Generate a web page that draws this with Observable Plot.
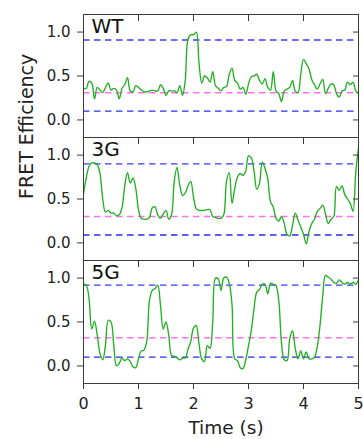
<!DOCTYPE html>
<html><head><meta charset="utf-8">
<script src="https://cdn.jsdelivr.net/npm/d3@7"></script>
<script src="https://cdn.jsdelivr.net/npm/@observablehq/plot@0.6"></script>
<style>body{margin:0;background:#fff;}</style>
</head><body><div id="chart"></div>
<script>
const panels = ["WT", "3G", "5G"];
const times = [0,0.05,0.1,0.15,0.2,0.25,0.3,0.35,0.4,0.45,
  0.5,0.55,0.6,0.65,0.7,0.75,0.8,0.85,0.9,0.95,
  1,1.05,1.1,1.15,1.2,1.25,1.3,1.35,1.4,1.45,
  1.5,1.55,1.6,1.65,1.7,1.75,1.8,1.85,1.9,1.95,
  2,2.05,2.1,2.15,2.2,2.25,2.3,2.35,2.4,2.45,
  2.5,2.55,2.6,2.65,2.7,2.75,2.8,2.85,2.9,2.95,
  3,3.05,3.1,3.15,3.2,3.25,3.3,3.35,3.4,3.45,
  3.5,3.55,3.6,3.65,3.7,3.75,3.8,3.85,3.9,3.95,
  4,4.05,4.1,4.15,4.2,4.25,4.3,4.35,4.4,4.45,
  4.5,4.55,4.6,4.65,4.7,4.75,4.8,4.85,4.9,4.95,
  5];
const fretWT = [0.36,0.36,0.44,0.42,0.24,0.37,0.34,0.31,0.37,0.42,
  0.34,0.36,0.34,0.24,0.36,0.40,0.48,0.33,0.32,0.39,
  0.37,0.34,0.32,0.32,0.33,0.34,0.33,0.33,0.40,0.36,
  0.28,0.33,0.33,0.33,0.31,0.39,0.28,0.45,0.92,0.97,
  0.97,1.00,0.65,0.42,0.50,0.48,0.43,0.55,0.39,0.36,
  0.33,0.37,0.38,0.52,0.59,0.45,0.42,0.35,0.37,0.29,
  0.41,0.49,0.50,0.52,0.45,0.41,0.47,0.37,0.34,0.55,
  0.33,0.30,0.21,0.33,0.35,0.37,0.45,0.33,0.31,0.52,
  0.69,0.64,0.58,0.46,0.40,0.35,0.41,0.46,0.30,0.36,
  0.41,0.40,0.30,0.26,0.33,0.34,0.43,0.40,0.43,0.33,
  0.30];
const fret3G = [0.56,0.74,0.87,0.91,0.91,0.89,0.79,0.50,0.35,0.37,
  0.34,0.34,0.31,0.32,0.40,0.65,0.80,0.68,0.74,0.62,
  0.38,0.28,0.27,0.27,0.29,0.40,0.41,0.32,0.28,0.33,
  0.37,0.27,0.32,0.70,0.86,0.66,0.54,0.57,0.65,0.70,
  0.52,0.39,0.37,0.37,0.37,0.38,0.38,0.30,0.29,0.28,
  0.28,0.32,0.70,0.80,0.45,0.62,0.75,0.79,0.77,0.82,
  0.99,0.97,0.82,0.61,0.68,0.92,0.85,0.73,0.47,0.41,
  0.28,0.25,0.30,0.22,0.10,0.08,0.20,0.34,0.26,0.18,
  0.10,-0.01,0.13,0.22,0.27,0.36,0.39,0.43,0.33,0.22,
  0.27,0.30,0.64,0.60,0.65,0.55,0.50,0.45,0.36,0.80,
  1.08];
const fret5G = [0.93,0.92,0.77,0.42,0.51,0.35,0.14,0.07,0.24,0.52,
  0.50,0.24,0.00,0.03,0.09,0.06,0.08,0.05,-0.01,-0.02,
  0.08,0.17,0.18,0.28,0.75,0.86,0.88,0.92,0.69,0.42,
  0.50,0.35,0.12,0.11,0.09,0.07,0.09,0.09,0.19,0.28,
  0.43,0.46,0.25,0.08,0.05,0.23,0.20,0.50,1.00,0.99,
  0.86,1.00,1.01,0.94,0.70,0.08,0.06,-0.02,-0.03,0.07,
  0.23,0.40,0.65,0.84,0.87,0.93,0.93,0.82,0.94,0.93,
  0.91,0.75,0.26,0.07,0.06,0.31,0.40,0.20,0.08,0.17,
  0.08,0.16,0.08,0.08,0.10,0.22,0.46,0.80,1.03,1.01,
  0.99,0.95,0.94,0.98,0.95,0.93,0.95,0.93,0.95,0.93,
  0.98];
const highLevels = [0.91, 0.90, 0.92];
const midLevels = [0.31, 0.30, 0.32];
const lowLevels = [0.10, 0.09, 0.10];
const yTicks = [0, 0.5, 1.0];
const xTicks = [0, 1, 2, 3, 4, 5];

const series = [fretWT, fret3G, fret5G];
const trace = panels.flatMap((p, i) => times.map((t, j) => ({panel: p, t, v: series[i][j]})));
const levels = panels.flatMap((p, i) => [
  {panel: p, v: highLevels[i], color: "#3b3bff"},
  {panel: p, v: midLevels[i], color: "#ff70f0"},
  {panel: p, v: lowLevels[i], color: "#2b2bee"}
]);

const plot = Plot.plot({
  width: 363, height: 439,
  marginTop: 13, marginBottom: 56, marginLeft: 83, marginRight: 5,
  style: {fontFamily: "DejaVu Sans, sans-serif", fontSize: "15px", color: "#222", background: "white"},
  x: {domain: [0, 5]},
  y: {domain: [-0.2, 1.2]},
  fy: {domain: panels, padding: 0, axis: null},
  marks: [
    Plot.ruleY(levels, {y: "v", fy: "panel", stroke: "color", strokeDasharray: "6.5,4.5", strokeWidth: 1.4}),
    Plot.lineY(trace, {x: "t", y: "v", fy: "panel", stroke: "#22b022", strokeWidth: 1.35, curve: "catmull-rom"}),
    Plot.frame({stroke: "#3a3a3a"}),
    Plot.axisY({anchor: "left", ticks: yTicks, tickFormat: d3.format(".1f"), tickSize: 6, tickPadding: 7, label: null, stroke: "#3a3a3a"}),
    Plot.axisY({anchor: "right", ticks: yTicks, tickSize: 6, dx: -6, fill: "none", label: null, stroke: "#3a3a3a"}),
    Plot.axisX({anchor: "bottom", ticks: xTicks, tickFormat: d3.format("d"), tickSize: 6, tickPadding: 8, fontSize: 16, label: null, stroke: "#3a3a3a"}),
    Plot.axisX({anchor: "top", ticks: xTicks, tickSize: 6, dy: 6, fill: "none", label: null, facetAnchor: null, stroke: "#3a3a3a"}),
    Plot.text(panels, {fy: d => d, text: d => d, frameAnchor: "top-left", lineAnchor: "top", dx: 8, dy: 4, fontSize: 20, fill: "#111"}),
    Plot.text(["FRET Efficiency"], {fy: () => "3G", text: d => d, frameAnchor: "left", rotate: -90, dx: -57, fontSize: 19, fill: "#222"}),
    Plot.text(["Time (s)"], {fy: () => "5G", text: d => d, frameAnchor: "bottom", lineAnchor: "middle", dx: 5, dy: 45, fontSize: 18.5, fill: "#222"})
  ]
});
document.getElementById("chart").appendChild(plot);
</script>
</body></html>
